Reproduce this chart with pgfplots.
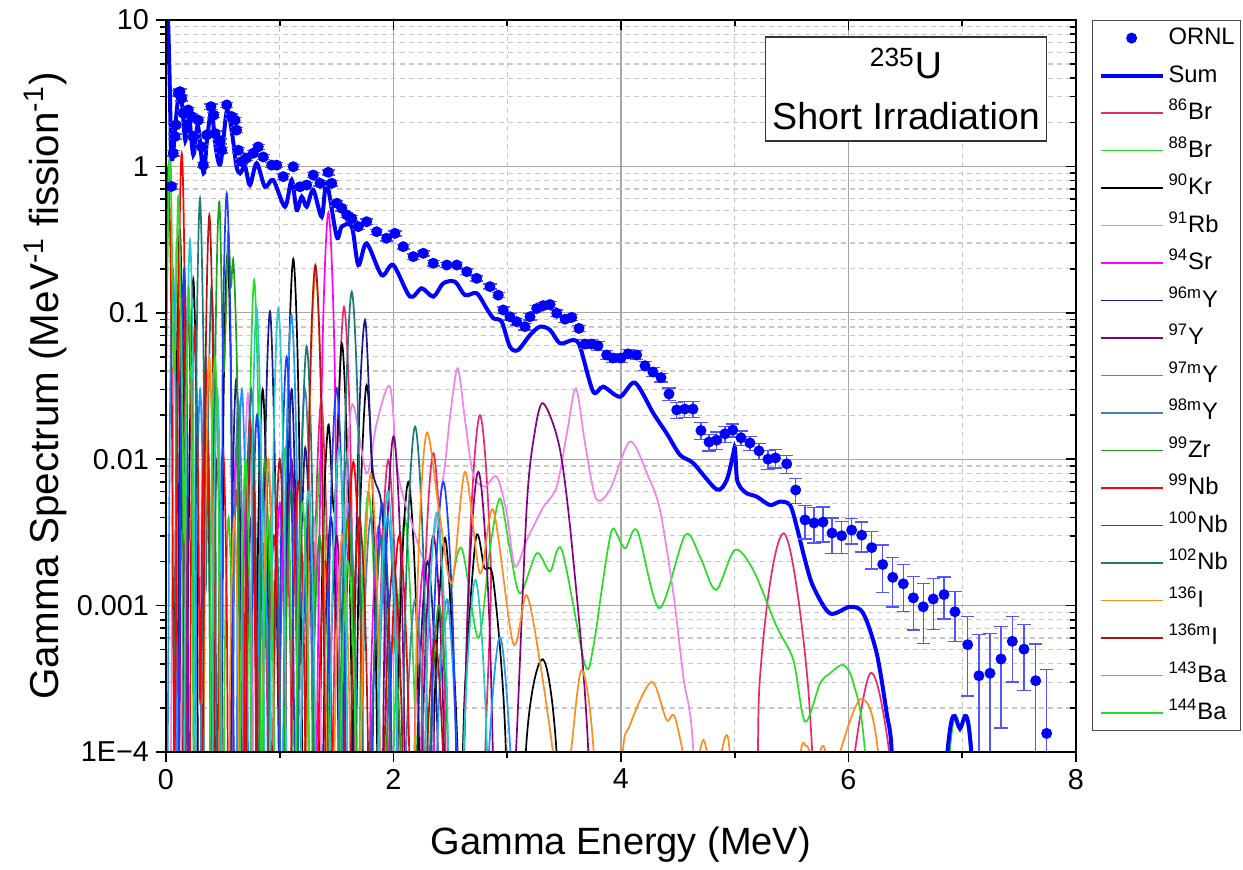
\documentclass[border=0pt]{standalone}
\usepackage{fontspec}
\setmainfont{Liberation Sans}
\usepackage{pgfplots}
\pgfplotsset{compat=1.18}
\definecolor{cBrA}{RGB}{232,40,110}
\definecolor{cBrB}{RGB}{40,220,40}
\definecolor{cKr}{RGB}{0,0,0}
\definecolor{cRb}{RGB}{238,130,238}
\definecolor{cSr}{RGB}{255,0,255}
\definecolor{cYa}{RGB}{25,25,135}
\definecolor{cYb}{RGB}{128,0,128}
\definecolor{cYc}{RGB}{30,150,255}
\definecolor{cYd}{RGB}{70,130,180}
\definecolor{cZr}{RGB}{30,160,30}
\definecolor{cNba}{RGB}{255,0,0}
\definecolor{cNbb}{RGB}{30,60,255}
\definecolor{cNbc}{RGB}{30,120,120}
\definecolor{cIa}{RGB}{255,140,30}
\definecolor{cIb}{RGB}{180,20,20}
\definecolor{cBaa}{RGB}{40,200,200}
\definecolor{cBab}{RGB}{40,220,40}
\definecolor{ebc}{RGB}{85,85,255}
\pgfplotstableread{
x y ep em
0.048 0.73 0.029 0.029
0.064 1.23 0.049 0.049
0.079 1.60 0.064 0.064
0.088 1.92 0.077 0.077
0.108 3.16 0.126 0.126
0.123 3.24 0.130 0.130
0.138 2.92 0.117 0.117
0.152 2.31 0.092 0.092
0.196 2.43 0.097 0.097
0.226 2.19 0.088 0.088
0.240 1.60 0.064 0.064
0.284 2.07 0.083 0.083
0.314 1.36 0.054 0.054
0.328 1.02 0.041 0.041
0.358 1.64 0.066 0.066
0.395 2.56 0.102 0.102
0.420 2.24 0.090 0.090
0.431 1.68 0.067 0.067
0.475 1.48 0.059 0.059
0.490 1.29 0.052 0.052
0.534 2.63 0.105 0.105
0.578 2.19 0.088 0.088
0.607 2.07 0.083 0.083
0.621 1.77 0.071 0.071
0.636 1.29 0.052 0.052
0.665 1.08 0.043 0.043
0.709 1.14 0.046 0.046
0.767 1.23 0.049 0.049
0.811 1.36 0.054 0.054
0.855 1.16 0.046 0.046
0.929 1.02 0.041 0.041
0.973 1.02 0.041 0.041
1.031 0.851 0.034 0.034
1.119 0.995 0.040 0.040
1.178 0.726 0.029 0.029
1.237 0.746 0.030 0.030
1.295 0.873 0.035 0.035
1.354 0.767 0.031 0.031
1.427 0.912 0.036 0.036
1.457 0.767 0.031 0.031
1.501 0.560 0.022 0.022
1.545 0.518 0.021 0.021
1.589 0.466 0.019 0.019
1.633 0.442 0.018 0.018
1.691 0.388 0.016 0.016
1.764 0.419 0.017 0.017
1.852 0.358 0.014 0.014
1.940 0.323 0.013 0.013
2.013 0.349 0.014 0.014
2.086 0.283 0.011 0.011
2.174 0.242 0.0097 0.0097
2.262 0.255 0.0102 0.0102
2.350 0.218 0.0087 0.0087
2.468 0.212 0.0085 0.0085
2.556 0.212 0.0085 0.0085
2.644 0.191 0.0076 0.0076
2.731 0.172 0.0069 0.0069
2.848 0.151 0.0060 0.0060
2.921 0.132 0.0053 0.0053
2.965 0.1045 0.0052 0.0052
3.024 0.094 0.0047 0.0047
3.083 0.0869 0.0043 0.0043
3.156 0.0804 0.0040 0.0040
3.200 0.094 0.0047 0.0047
3.259 0.107 0.0054 0.0054
3.317 0.112 0.0056 0.0056
3.376 0.114 0.0057 0.0057
3.435 0.0993 0.0050 0.0050
3.508 0.0904 0.0045 0.0045
3.567 0.0931 0.0047 0.0047
3.631 0.0783 0.0039 0.0039
3.684 0.0612 0.0043 0.0043
3.742 0.0612 0.0043 0.0043
3.798 0.0596 0.0042 0.0042
3.874 0.0515 0.0036 0.0036
3.930 0.0491 0.0034 0.0034
4.000 0.0491 0.0034 0.0034
4.062 0.0524 0.0037 0.0037
4.138 0.0515 0.0036 0.0036
4.211 0.0435 0.0030 0.0030
4.281 0.0394 0.0028 0.0028
4.352 0.0361 0.0025 0.0025
4.422 0.0279 0.0028 0.0028
4.490 0.0217 0.0027 0.0027
4.560 0.0220 0.0027 0.0027
4.633 0.0220 0.0027 0.0027
4.703 0.0157 0.0021 0.0021
4.774 0.0131 0.0017 0.0017
4.841 0.0135 0.0018 0.0018
4.914 0.0149 0.0019 0.0019
4.982 0.0158 0.0016 0.0016
5.055 0.0140 0.0016 0.0016
5.134 0.0129 0.0014 0.0014
5.213 0.0114 0.0014 0.0014
5.292 0.0100 0.0015 0.0015
5.358 0.0102 0.0015 0.0015
5.457 0.0093 0.0013 0.0013
5.536 0.00616 0.0012 0.0012
5.618 0.00385 0.0010 0.0010
5.697 0.00367 0.0010 0.0010
5.776 0.00372 0.0010 0.0010
5.855 0.00313 0.00085 0.00085
5.940 0.00300 0.00074 0.00074
6.028 0.00328 0.00065 0.00065
6.116 0.00303 0.00070 0.00070
6.204 0.00249 0.00071 0.00071
6.301 0.00191 0.00068 0.00068
6.389 0.00156 0.00058 0.00058
6.482 0.00141 0.00050 0.00050
6.570 0.00113 0.00045 0.00045
6.657 0.000982 0.00043 0.00043
6.745 0.00111 0.00042 0.00042
6.840 0.00119 0.00038 0.00038
6.936 0.000908 0.00034 0.00034
7.048 0.000541 0.00030 0.00030
7.147 0.000332 0.00030 0.00030
7.244 0.000345 0.00030 0.00030
7.341 0.000432 0.000286 0.000286
7.440 0.000570 0.00027 0.00027
7.543 0.000504 0.00024 0.00024
7.646 0.000307 0.00024 0.00024
7.742 0.000134 0.000233 0.00013
}\ornl
\begin{document}
\begin{tikzpicture}
\begin{axis}[
  at={(0,0)}, anchor=south west, scale only axis,
  width=455pt, height=366pt,
  xmin=0, xmax=8, ymode=log, ymin=1e-4, ymax=10,
  xtick={0,2,4,6,8}, xticklabels={0,2,4,6,8}, minor xtick={1,3,5,7},
  ytick={1e-4,1e-3,1e-2,1e-1,1,10},
  yticklabels={1E−4,0.001,0.01,0.1,1,10},
  minor ytick={2e-4,3e-4,4e-4,5e-4,6e-4,7e-4,8e-4,9e-4,0.002,0.003,0.004,0.005,0.006,0.007,0.008,0.009,0.02,0.03,0.04,0.05,0.06,0.07,0.08,0.09,0.2,0.3,0.4,0.5,0.6,0.7,0.8,0.9,2,3,4,5,6,7,8,9},
  xtick pos=left, ytick pos=left, tick align=outside,
  major tick length=5pt, minor tick length=3pt,
  tick style={black, line width=0.8pt},
  grid=both,
  major grid style={black!35, line width=0.6pt},
  minor grid style={black!22, line width=0.6pt, dash pattern=on 2.5pt off 2pt},
  axis line style={line width=1pt},
  tick label style={font=\fontsize{14.4}{16}\selectfont},
  legend cell align=left,
  legend style={at={(1.0176,1)}, anchor=north west, draw=black!70, line width=0.6pt,
    font=\fontsize{11.9}{14}\selectfont, inner sep=3pt, row sep=7.25pt,
    nodes={inner sep=0pt, text height=9pt, text depth=2.5pt}, column sep=2pt},
  legend image code/.code={\draw[mark repeat=2,mark phase=2,#1] plot coordinates {(0pt,0pt) (15.5pt,0pt) (31pt,0pt)};},
  every axis plot/.append style={line width=0.85pt},
]
\addlegendimage{only marks, mark=*, mark size=2.3pt, blue}
\addlegendentry{ORNL}
\addlegendimage{blue, line width=2pt}
\addlegendentry{Sum}
\addlegendimage{cBrA, line width=0.85pt}\addlegendentry{\textsuperscript{86}Br}
\addlegendimage{cBrB, line width=0.85pt}\addlegendentry{\textsuperscript{88}Br}
\addlegendimage{cKr, line width=0.85pt}\addlegendentry{\textsuperscript{90}Kr}
\addlegendimage{cRb, line width=0.85pt}\addlegendentry{\textsuperscript{91}Rb}
\addlegendimage{cSr, line width=0.85pt}\addlegendentry{\textsuperscript{94}Sr}
\addlegendimage{cYa, line width=0.85pt}\addlegendentry{\textsuperscript{96m}Y}
\addlegendimage{cYb, line width=0.85pt}\addlegendentry{\textsuperscript{97}Y}
\addlegendimage{cYc, line width=0.85pt}\addlegendentry{\textsuperscript{97m}Y}
\addlegendimage{cYd, line width=0.85pt}\addlegendentry{\textsuperscript{98m}Y}
\addlegendimage{cZr, line width=0.85pt}\addlegendentry{\textsuperscript{99}Zr}
\addlegendimage{cNba, line width=0.85pt}\addlegendentry{\textsuperscript{99}Nb}
\addlegendimage{cNbb, line width=0.85pt}\addlegendentry{\textsuperscript{100}Nb}
\addlegendimage{cNbc, line width=0.85pt}\addlegendentry{\textsuperscript{102}Nb}
\addlegendimage{cIa, line width=0.85pt}\addlegendentry{\textsuperscript{136}I}
\addlegendimage{cIb, line width=0.85pt}\addlegendentry{\textsuperscript{136m}I}
\addlegendimage{cBaa, line width=0.85pt}\addlegendentry{\textsuperscript{143}Ba}
\addlegendimage{cBab, line width=0.85pt}\addlegendentry{\textsuperscript{144}Ba}

% 86Br
\addplot[cBrA, smooth, forget plot] coordinates {(0.548,6e-7) (0.584,6e-4) (0.62,0.006) (0.656,6e-4) (0.692,6e-7) (0.77,2e-7) (0.81,2e-4) (0.85,0.002) (0.89,2e-4) (0.93,2e-7) (0.96,4e-7) (1.005,4e-4) (1.05,0.004) (1.095,4e-4) (1.14,4e-7) (1.259,2.5e-6) (1.312,0.0025) (1.365,0.025) (1.418,0.0025) (1.46,7e-5) (1.507,0.011) (1.565,0.11) (1.623,0.011) (1.681,1.1e-5) (1.816,1e-6) (1.885,9.9e-4) (1.954,0.0099) (2.023,9.9e-4) (2.092,1e-6) (2.19,1.1e-6) (2.27,1.1e-3) (2.35,0.011) (2.43,1.1e-3) (2.51,1.1e-6) (2.57,2e-6) (2.665,2e-3) (2.76,0.020) (2.855,2e-3) (2.95,2e-6) (5.0,1e-7) (5.22,3.1e-4) (5.43,3.12e-3) (5.64,3.1e-4) (5.82,1.5e-6) (5.98,3.5e-5) (6.2,3.48e-4) (6.42,3.5e-5) (6.64,3.5e-8)};
% 88Br
\addplot[cBrB, smooth, forget plot] coordinates {(0.288,1.5e-6) (0.319,0.0015) (0.35,0.015) (0.381,0.0015) (0.412,1.5e-6) (0.482,4e-7) (0.516,4e-4) (0.55,0.004) (0.584,4e-4) (0.618,4e-7) (0.699,1.7e-5) (0.737,0.0168) (0.775,0.168) (0.813,0.0168) (0.851,1.7e-5) (0.96,1.2e-6) (1.005,0.0012) (1.05,0.012) (1.095,0.0012) (1.14,1.2e-6) (1.254,1e-6) (1.307,0.001) (1.36,0.01) (1.413,0.001) (1.466,1e-6) (1.652,6e-7) (1.716,6e-4) (1.78,0.006) (1.844,6e-4) (1.908,6e-7) (2.026,4e-4) (2.1,0.004) (2.174,4e-4) (2.25,1e-5) (2.35,2e-4) (2.5,1.2e-3) (2.6,2.46e-3) (2.746,6e-4) (2.85,2.5e-3) (2.936,5.4e-3) (3.02,2.5e-3) (3.112,1.21e-3) (3.259,2.28e-3) (3.376,1.71e-3) (3.48,2.4e-3) (3.684,3.93e-4) (3.756,5.2e-4) (3.83,1.28e-3) (3.888,2.52e-3) (3.933,3.37e-3) (4.035,2.46e-3) (4.143,3.25e-3) (4.337,9.6e-4) (4.563,3.03e-3) (4.695,2.16e-3) (4.835,1.28e-3) (5.0,2.4e-3) (5.163,1.75e-3) (5.369,7.18e-4) (5.515,4.25e-4) (5.618,1.61e-4) (5.75,2.94e-4) (5.837,3.44e-4) (5.954,3.93e-4) (6.044,2.94e-4) (6.145,1e-4) (6.3,1e-6) (6.6,1e-7) (6.89,1.0e-4) (6.98,1.38e-4) (7.07,1.0e-4) (7.3,1e-7)};
% 90Kr
\addplot[cKr, smooth, forget plot] coordinates {(0.068,3.7e-5) (0.095,0.037) (0.122,0.37) (0.149,0.037) (0.18,3e-4) (0.211,0.017) (0.24,0.17) (0.269,0.017) (0.298,1.7e-5) (0.472,2.5e-5) (0.506,0.025) (0.54,0.25) (0.574,0.025) (0.608,2.5e-5) (0.77,3e-6) (0.81,0.003) (0.85,0.03) (0.89,0.003) (0.93,3e-6) (1.025,2.3e-5) (1.072,0.0233) (1.119,0.233) (1.166,0.0233) (1.213,2.3e-5) (1.319,1.7e-6) (1.373,0.0017) (1.427,0.0171) (1.48,4.5e-3) (1.545,0.062) (1.602,0.0062) (1.655,4e-5) (1.701,0.0032) (1.764,0.0321) (1.827,0.0032) (1.89,3.2e-6) (1.98,7e-7) (2.055,7e-4) (2.13,0.007) (2.205,7e-4) (2.28,7e-7) (2.367,2.9e-4) (2.453,2.9e-3) (2.539,2.9e-4) (2.59,4e-5) (2.63,2.9e-4) (2.725,2.9e-3) (2.8,1.8e-3) (2.877,1.5e-3) (2.98,1.5e-4) (3.06,1e-6) (3.17,1.2e-4) (3.311,4.3e-4) (3.43,1.1e-4) (3.55,1e-6)};
% 91Rb
\addplot[cRb, smooth, forget plot] coordinates {(0.04,3e-5) (0.067,0.03) (0.094,0.3) (0.121,0.03) (0.148,3e-5) (0.284,5e-6) (0.315,0.005) (0.346,0.05) (0.377,0.005) (0.396,2e-4) (0.414,0.002) (0.446,0.0206) (0.478,0.002) (0.51,2e-6) (0.646,2.8e-6) (0.683,0.0028) (0.72,0.028) (0.757,0.0028) (0.794,2.8e-6) (1.008,8e-7) (1.054,8e-4) (1.1,0.008) (1.146,8e-4) (1.192,8e-7) (1.248,4e-4) (1.3,0.004) (1.352,4e-4) (1.404,4e-7) (1.513,2.3e-6) (1.573,0.0023) (1.633,0.0234) (1.764,0.008) (1.852,0.0176) (1.969,0.0313) (2.04,0.008) (2.145,4e-3) (2.3,2e-3) (2.438,7.6e-3) (2.497,0.0195) (2.564,0.0418) (2.629,0.0185) (2.70,7.9e-3) (2.8,6.5e-3) (2.907,7.6e-3) (2.995,4.3e-3) (3.068,1.85e-3) (3.171,2.8e-3) (3.317,4.7e-3) (3.435,6.5e-3) (3.53,0.016) (3.604,0.0305) (3.684,0.0128) (3.78,5.4e-3) (3.903,6.2e-3) (4.079,0.0132) (4.24,7.6e-3) (4.343,4.5e-3) (4.46,1.21e-3) (4.548,3.27e-4) (4.636,1e-4) (4.72,1e-6)};
% 94Sr
\addplot[cSr, smooth, forget plot] coordinates {(0.096,8e-6) (0.123,0.008) (0.15,0.08) (0.177,0.008) (0.204,8e-6) (0.548,1.2e-6) (0.585,0.0012) (0.62,0.012) (0.662,7e-4) (0.705,0.006) (0.742,6e-4) (0.78,6e-7) (0.912,5e-7) (0.956,5e-4) (1.0,0.005) (1.044,5e-4) (1.088,5e-7) (1.15,2e-4) (1.2,0.002) (1.25,2e-4) (1.29,2e-7) (1.32,4.8e-5) (1.374,0.0484) (1.428,0.484) (1.482,0.0484) (1.536,4.8e-5) (1.736,3.5e-7) (1.803,3.5e-4) (1.87,0.0035) (1.937,3.5e-4) (2.004,3.5e-7) (2.116,2e-7) (2.193,2e-4) (2.27,0.002) (2.347,2e-4) (2.424,2e-7)};
% 96mY
\addplot[cYa, smooth, forget plot] coordinates {(0.092,1.5e-5) (0.119,0.015) (0.146,0.15) (0.173,0.015) (0.2,1.5e-5) (0.288,2e-6) (0.319,0.002) (0.35,0.02) (0.381,0.002) (0.412,2e-6) (0.547,3.5e-6) (0.582,0.0035) (0.617,0.035) (0.652,0.0035) (0.687,3.5e-6) (0.83,1e-5) (0.872,0.0102) (0.914,0.102) (0.956,0.0102) (1.01,2e-5) (1.061,0.003) (1.107,0.03) (1.165,1.3e-3) (1.224,0.012) (1.273,0.0012) (1.322,1.2e-6) (1.34,4e-7) (1.395,4e-4) (1.45,0.004) (1.505,4e-4) (1.56,4e-7) (1.622,9e-6) (1.686,0.0089) (1.75,0.0893) (1.814,0.009) (1.896,4.7e-3) (1.966,4.7e-4) (2.036,5e-7) (2.14,2e-7) (2.22,2e-4) (2.3,0.002) (2.38,2e-4) (2.46,2e-7)};
% 97Y
\addplot[cYb, smooth, forget plot] coordinates {(0.107,6e-6) (0.134,0.006) (0.161,0.06) (0.188,0.006) (0.215,6e-6) (0.386,1e-6) (0.418,0.001) (0.45,0.01) (0.482,0.001) (0.514,1e-6) (0.674,4e-7) (0.712,4e-4) (0.75,0.004) (0.788,4e-4) (0.826,4e-7) (1.011,1e-6) (1.057,0.001) (1.103,0.01) (1.149,0.001) (1.195,1e-6) (1.39,3e-7) (1.445,3e-4) (1.5,0.003) (1.555,3e-4) (1.61,3e-7) (1.858,1.4e-6) (1.929,0.00143) (2.0,0.0143) (2.071,0.00143) (2.142,1.4e-6) (2.19,3e-7) (2.27,3e-4) (2.35,0.003) (2.43,3e-4) (2.51,3e-7) (2.556,8e-7) (2.65,8.2e-4) (2.746,8.2e-3) (2.842,8.2e-4) (2.95,1e-6) (3.077,1e-4) (3.171,4.7e-3) (3.24,0.015) (3.317,0.0241) (3.464,0.0116) (3.581,2.05e-3) (3.713,1e-4) (3.85,1e-7)};
% 97mY
\addplot[cYc, smooth, forget plot] coordinates {(0.01,2e-5) (0.035,0.02) (0.06,0.2) (0.086,0.02) (0.112,2e-5) (0.24,3e-6) (0.27,0.003) (0.3,0.03) (0.33,0.003) (0.36,3e-6) (0.595,3e-6) (0.631,0.003) (0.667,0.03) (0.703,0.003) (0.739,3e-6) (0.77,6e-7) (0.81,6e-4) (0.85,0.006) (0.89,6e-4) (0.93,6e-7) (1.011,9.7e-6) (1.057,0.0097) (1.103,0.097) (1.149,0.0097) (1.195,9.7e-6) (1.5,5e-7) (1.555,5e-4) (1.61,0.005) (1.665,5e-4) (1.72,5e-7) (1.812,4e-7) (1.881,4e-4) (1.95,0.004) (2.019,4e-4) (2.088,4e-7) (2.3,1.1e-7) (2.385,1.1e-4) (2.47,1.1e-3) (2.555,1.1e-4) (2.64,1e-6) (2.72,1e-7) (2.82,5e-5) (2.936,6.1e-4) (3.05,5e-5) (3.2,1e-7)};
% 98mY
\addplot[cYd, smooth, forget plot] coordinates {(0.066,1e-5) (0.093,0.01) (0.12,0.1) (0.147,0.01) (0.174,1e-5) (0.288,5e-6) (0.319,0.005) (0.35,0.05) (0.381,0.005) (0.412,5e-6) (0.566,2.5e-6) (0.601,0.0025) (0.636,0.0254) (0.671,0.0025) (0.706,2.5e-6) (0.816,8e-7) (0.858,8e-4) (0.9,0.008) (0.942,8e-4) (0.984,8e-7) (1.124,3e-6) (1.173,0.003) (1.222,0.03) (1.271,0.003) (1.32,3e-6) (1.472,1e-6) (1.531,0.001) (1.59,0.01) (1.649,0.001) (1.708,1e-6) (1.735,4e-4) (1.8,0.004) (1.866,4e-4) (1.932,4e-7) (2.036,1e-7) (2.113,1.1e-4) (2.19,1.1e-3) (2.267,1.1e-4) (2.344,1e-7)};
% 99Zr
\addplot[cZr, smooth, forget plot] coordinates {(0.067,1e-5) (0.094,0.01) (0.121,0.1) (0.148,0.01) (0.175,1e-5) (0.405,5.7e-5) (0.435,0.0574) (0.469,0.574) (0.508,0.04) (0.546,0.35) (0.57,0.15) (0.594,0.22) (0.63,0.022) (0.666,2e-5) (0.79,1e-6) (0.83,0.001) (0.87,0.01) (0.91,0.001) (0.95,1e-6) (1.01,6e-7) (1.055,6e-4) (1.1,0.006) (1.145,6e-4) (1.19,6e-7) (1.244,3e-7) (1.297,3e-4) (1.35,0.003) (1.403,3e-4) (1.456,3e-7) (1.54,4e-4) (1.6,0.004) (1.66,4e-4) (1.72,4e-7) (1.858,6e-8) (1.929,6e-5) (2.0,6e-4) (2.071,6e-5) (2.142,6e-8) (2.24,1e-7) (2.32,1e-4) (2.4,0.001) (2.48,1e-4) (2.56,1e-7)};
% 99Nb
\addplot[cNba, smooth, forget plot] coordinates {(0.0,0.15) (0.02,1.0) (0.046,0.1) (0.075,1e-4) (0.111,0.123) (0.138,1.23) (0.165,0.123) (0.2,1.5e-5) (0.225,0.008) (0.253,0.08) (0.281,0.008) (0.3,2.3e-4) (0.319,0.004) (0.35,0.04) (0.381,0.004) (0.412,4e-6) (0.434,1.2e-6) (0.467,0.0012) (0.5,0.012) (0.533,0.0012) (0.566,1.2e-6) (0.662,1.9e-6) (0.7,0.0019) (0.738,0.019) (0.776,0.0019) (0.814,1.9e-6) (0.865,3e-7) (0.907,3e-4) (0.95,0.003) (0.993,3e-4) (1.036,3e-7) (1.069,7e-7) (1.116,7e-4) (1.163,0.007) (1.21,7e-4) (1.257,7e-7) (1.29,2e-7) (1.345,2e-4) (1.4,0.002) (1.455,2e-4) (1.51,2e-7) (1.527,1e-6) (1.587,9.6e-4) (1.647,0.0096) (1.707,9.6e-4) (1.767,1e-6) (1.902,3e-7) (1.976,3e-4) (2.05,0.003) (2.124,3e-4) (2.198,3e-7)};
% 100Nb
\addplot[cNbb, smooth, forget plot] coordinates {(0.106,2e-5) (0.133,0.02) (0.16,0.2) (0.187,0.02) (0.214,2e-5) (0.466,6.6e-5) (0.5,0.0655) (0.534,0.655) (0.568,0.0655) (0.602,6.6e-5) (0.72,2e-6) (0.76,0.002) (0.8,0.02) (0.84,0.002) (0.88,2e-6) (0.971,5e-6) (1.016,0.005) (1.061,0.05) (1.106,0.005) (1.151,5e-6) (1.2,4e-4) (1.25,0.004) (1.3,4e-4) (1.35,4e-7) (1.386,3e-6) (1.443,0.00305) (1.5,0.0305) (1.557,0.00305) (1.614,3e-6) (1.764,5e-7) (1.832,5e-4) (1.9,0.005) (1.968,5e-4) (2.036,5e-7) (2.268,7e-7) (2.353,7e-4) (2.438,7e-3) (2.523,7e-4) (2.608,7e-7)};
% 102Nb
\addplot[cNbc, smooth, forget plot] coordinates {(0.241,6e-5) (0.27,0.06) (0.299,0.605) (0.329,0.06) (0.35,1.4e-3) (0.368,0.015) (0.4,0.15) (0.432,0.015) (0.464,1.5e-5) (0.674,3e-6) (0.712,0.003) (0.75,0.03) (0.788,0.003) (0.826,3e-6) (0.864,8e-7) (0.907,8e-4) (0.95,0.008) (0.993,8e-4) (1.036,8e-7) (1.139,5.9e-6) (1.188,0.0059) (1.237,0.059) (1.286,0.0059) (1.335,5.9e-6) (1.513,1.4e-5) (1.573,0.0139) (1.633,0.139) (1.693,0.0139) (1.753,1.4e-5) (1.822,3e-4) (1.89,0.003) (1.958,3e-4) (2.0,1e-6) (2.036,1.7e-6) (2.113,0.00167) (2.19,0.0167) (2.267,0.00167) (2.344,1.7e-6)};
% 136I
\addplot[cIa, smooth, forget plot] coordinates {(0.317,5e-6) (0.349,0.005) (0.381,0.05) (0.413,0.005) (0.445,5e-6) (0.53,4e-7) (0.565,4e-4) (0.6,0.004) (0.635,4e-4) (0.67,4e-7) (0.818,1e-6) (0.859,0.001) (0.9,0.01) (0.941,0.001) (0.982,1e-6) (1.209,1.9e-5) (1.262,0.0186) (1.315,0.186) (1.368,0.0186) (1.421,1.9e-5) (1.434,3e-7) (1.492,3e-4) (1.55,0.003) (1.608,3e-4) (1.666,3e-7) (1.672,8e-7) (1.736,8e-4) (1.8,0.008) (1.864,8e-4) (1.928,8e-7) (2.136,1.5e-6) (2.213,0.0015) (2.29,0.015) (2.4,4.5e-3) (2.512,1.42e-3) (2.629,8.2e-3) (2.76,1.66e-3) (2.877,4.5e-3) (3.053,5.5e-4) (3.17,1.18e-3) (3.29,4e-4) (3.41,9e-5) (3.48,3e-5) (3.56,1e-4) (3.654,3.63e-4) (3.76,1e-4) (3.88,1e-6) (4.006,8e-5) (4.079,1.53e-4) (4.27,3.02e-4) (4.40,1.66e-4) (4.475,1.72e-4) (4.62,6e-5) (4.724,1.21e-4) (4.82,6e-5) (4.943,1.23e-4) (5.04,6e-6) (5.3,1e-7) (5.55,6e-5) (5.63,1.1e-4) (5.7,8e-5) (5.78,1.1e-4) (5.86,6e-5) (5.925,1e-4) (6.11,2.3e-4) (6.26,1e-4) (6.45,1e-6)};
% 136mI
\addplot[cIb, smooth, forget plot] coordinates {(0.141,1e-5) (0.169,0.01) (0.197,0.1) (0.225,0.01) (0.27,3e-5) (0.317,4.7e-5) (0.349,0.047) (0.381,0.466) (0.413,0.047) (0.445,4.7e-5) (0.674,1.5e-6) (0.712,0.0015) (0.75,0.015) (0.788,0.0015) (0.826,1.5e-6) (0.91,1e-6) (0.955,0.001) (1.0,0.01) (1.045,0.001) (1.09,1e-6) (1.207,2.1e-5) (1.26,0.0212) (1.313,0.212) (1.366,0.0212) (1.419,2.1e-5) (1.575,4e-7) (1.638,4e-4) (1.7,0.004) (1.762,4e-4) (1.825,4e-7) (1.86,2e-7) (1.93,2e-4) (2.0,0.002) (2.07,2e-4) (2.14,2e-7) (2.205,5.8e-8) (2.285,5.8e-5) (2.365,5.8e-4) (2.445,5.8e-5) (2.525,5.8e-8)};
% 143Ba
\addplot[cBaa, smooth, forget plot] coordinates {(0.155,3e-5) (0.183,0.0314) (0.211,0.314) (0.239,0.0314) (0.267,3e-5) (0.386,3e-6) (0.418,0.003) (0.45,0.03) (0.482,0.003) (0.514,3e-6) (0.719,1e-5) (0.758,0.0107) (0.797,0.107) (0.836,0.0107) (0.89,1e-5) (0.944,0.0107) (0.987,0.107) (1.03,0.0107) (1.073,1e-5) (1.15,6e-7) (1.2,6e-4) (1.25,0.006) (1.3,6e-4) (1.35,6e-7) (1.404,1.2e-6) (1.462,0.0012) (1.52,0.012) (1.578,0.0012) (1.636,1.2e-6) (1.812,6e-7) (1.881,6e-4) (1.95,0.006) (2.019,6e-4) (2.088,6e-7) (2.214,4e-7) (2.297,4.3e-4) (2.38,4.3e-3) (2.463,4.3e-4) (2.546,4e-7) (2.625,1.5e-4) (2.72,0.0015) (2.815,1.5e-4) (2.91,1.5e-7)};
% 144Ba
\addplot[cBab, smooth, forget plot] coordinates {(0.0,0.03) (0.035,1.68) (0.07,0.04) (0.108,0.62) (0.135,0.062) (0.16,3e-3) (0.172,0.015) (0.199,0.15) (0.227,0.015) (0.255,1.5e-5) (0.366,5e-6) (0.398,0.005) (0.43,0.05) (0.462,0.005) (0.494,5e-6) (0.628,1e-6) (0.664,0.001) (0.7,0.01) (0.736,0.001) (0.772,1e-6) (0.816,4e-7) (0.858,4e-4) (0.9,0.004) (0.942,4e-4) (0.984,4e-7) (1.106,5e-7) (1.153,5e-4) (1.2,0.005) (1.247,5e-4) (1.294,5e-7) (1.48,2e-7) (1.54,2e-4) (1.6,0.002) (1.66,2e-4) (1.72,2e-7)};
% Sum
\addplot[blue, line width=2pt, smooth, forget plot] coordinates {(0.0,8) (0.015,11) (0.03,4.5) (0.045,1.3) (0.06,1.15) (0.08,1.8) (0.11,3.0) (0.14,2.7) (0.17,1.5) (0.2,2.3) (0.24,1.2) (0.28,1.9) (0.33,0.9) (0.36,1.5) (0.40,2.4) (0.44,1.3) (0.48,1.05) (0.535,2.4) (0.58,1.7) (0.62,1.0) (0.651,0.897) (0.695,0.995) (0.738,0.746) (0.797,1.05) (0.870,0.726) (0.943,0.807) (1.046,0.531) (1.105,0.807) (1.149,0.504) (1.193,0.621) (1.237,0.531) (1.295,0.690) (1.369,0.453) (1.413,0.767) (1.501,0.331) (1.545,0.388) (1.633,0.388) (1.691,0.212) (1.764,0.298) (1.896,0.181) (1.998,0.212) (2.145,0.129) (2.248,0.147) (2.350,0.129) (2.438,0.159) (2.541,0.163) (2.629,0.132) (2.731,0.136) (2.819,0.107) (2.879,0.0917) (2.951,0.0869) (3.024,0.0586) (3.095,0.0557) (3.2,0.0705) (3.288,0.0804) (3.376,0.0764) (3.464,0.0619) (3.581,0.0652) (3.640,0.0586) (3.756,0.0289) (3.844,0.0313) (3.991,0.0267) (4.123,0.0333) (4.284,0.0206) (4.402,0.0150) (4.519,0.0107) (4.636,0.00938) (4.841,0.00622) (4.929,0.00721) (4.985,0.0107) (5.002,0.0119) (5.018,0.0075) (5.046,0.0065) (5.105,0.00585) (5.193,0.00555) (5.310,0.00486) (5.398,0.00513) (5.486,0.00486) (5.545,0.00346) (5.618,0.00205) (5.69,0.00135) (5.837,0.000885) (6.013,0.000982) (6.130,0.000885) (6.248,0.000472) (6.336,0.000184) (6.380,0.0001) (6.42,1e-5)};
\addplot[blue, line width=2pt, smooth, forget plot] coordinates {(6.6,1e-7) (6.87,1e-4) (6.98,1.45e-4) (7.08,1e-4) (7.3,1e-7)};
% ORNL
\addplot[only marks, mark=*, mark size=2.3pt, blue, forget plot,
  error bars/.cd, y dir=both, y explicit,
  error bar style={color=ebc, line width=0.7pt},
  error mark options={color=ebc, line width=0.7pt, mark size=3.3pt, rotate=90}]
  table[x index=0, y index=1, y error plus index=2, y error minus index=3] {\ornl};
\end{axis}
\begin{axis}[
  at={(0,0)}, anchor=south west, scale only axis,
  width=455pt, height=366pt,
  xmin=0, xmax=8, ymode=log, ymin=1e-4, ymax=10,
  xtick={0,2,4,6,8}, minor xtick={1,3,5,7},
  ytick={1e-4,1e-3,1e-2,1e-1,1,10},
  minor ytick={2e-4,3e-4,4e-4,5e-4,6e-4,7e-4,8e-4,9e-4,0.002,0.003,0.004,0.005,0.006,0.007,0.008,0.009,0.02,0.03,0.04,0.05,0.06,0.07,0.08,0.09,0.2,0.3,0.4,0.5,0.6,0.7,0.8,0.9,2,3,4,5,6,7,8,9},
  xticklabels={}, yticklabels={},
  xtick pos=right, ytick pos=right, tick align=inside,
  major tick length=5pt, minor tick length=3pt,
  tick style={black, line width=0.8pt},
  axis line style={line width=1pt},
]
\end{axis}
\node[rotate=90, font=\fontsize{20.2}{22}\selectfont] at (-60.5pt,183pt) {Gamma Spectrum (MeV\textsuperscript{-1} fission\textsuperscript{-1})};
\node[font=\fontsize{19}{22}\selectfont] at (227.5pt,-46.5pt) {Gamma Energy (MeV)};
\node[draw=black!80, line width=0.6pt, fill=white, minimum width=140pt, minimum height=52pt, align=center, font=\fontsize{18.8}{25.5}\selectfont] at (370pt,331.5pt) {\textsuperscript{235}U\\Short Irradiation};
\pgfresetboundingbox
\path[use as bounding box] (-83pt,-58.5pt) rectangle (538.5pt,376pt);
\end{tikzpicture}
\end{document}
